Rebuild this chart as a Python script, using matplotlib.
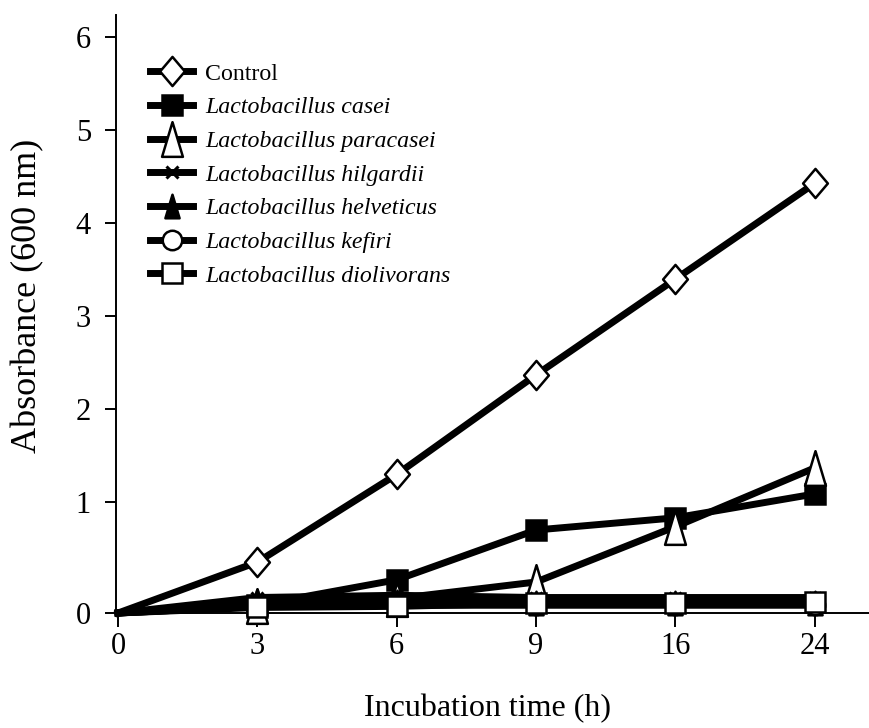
import numpy as np
import matplotlib
matplotlib.use("Agg")
import matplotlib.pyplot as plt
from matplotlib.lines import Line2D
from matplotlib.path import Path

# Sampling times (h) and optical density readings
times = ["0", "3", "6", "9", "16", "24"]
control = [0.0, 0.46, 1.30, 2.37, 3.40, 4.43]
l_casei = [0.0, 0.07, 0.30, 0.75, 0.86, 1.09]
l_paracasei = [0.0, 0.06, 0.13, 0.28, 0.78, 1.37]
l_hilgardii = [0.0, 0.14, 0.16, 0.14, 0.14, 0.14]
l_helveticus = [0.0, 0.11, 0.10, 0.09, 0.09, 0.09]
l_kefiri = [0.0, 0.06, 0.07, 0.07, 0.07, 0.07]
l_diolivorans = [0.0, 0.05, 0.06, 0.09, 0.09, 0.10]

plt.rcParams["font.family"] = ["Liberation Serif", "DejaVu Serif"]

fig = plt.figure(figsize=(8.69, 7.28), dpi=100)
W, H = 869, 728
left, right, bottom, top = 116, 869, 613, 15
ax = fig.add_axes([left / W, 1 - bottom / H, (right - left) / W, (bottom - top) / H])

# stretched segment between 0 and 1 on the absorbance axis
k = 1.19


def fwd(y):
    y = np.asarray(y, dtype=float)
    return np.where(y < 1, k * y - (k - 1), y)


def inv(u):
    u = np.asarray(u, dtype=float)
    return np.where(u < 1, (u + (k - 1)) / k, u)


ax.set_yscale("function", functions=(fwd, inv))

x = np.arange(len(times))


def closed(pts):
    return Path(pts + [pts[0]], closed=True)


tall_tri = closed([(-0.6, -1.0), (0.6, -1.0), (0.0, 1.0)])
tall_dia = closed([(0.0, 1.0), (0.85, 0.0), (0.0, -1.0), (-0.85, 0.0)])

series = [
    ("Control", control, dict(marker=tall_dia, markersize=21, markerfacecolor="white"), False),
    ("Lactobacillus casei", l_casei, dict(marker="s", markersize=14, markerfacecolor="black"), True),
    ("Lactobacillus paracasei", l_paracasei, dict(marker=tall_tri, markersize=25, markerfacecolor="white"), True),
    ("Lactobacillus hilgardii", l_hilgardii, dict(marker="x", markersize=8, markeredgewidth=2.2), True),
    ("Lactobacillus helveticus", l_helveticus, dict(marker=tall_tri, markersize=17, markerfacecolor="black"), True),
    ("Lactobacillus kefiri", l_kefiri, dict(marker="o", markersize=14, markerfacecolor="white"), True),
    ("Lactobacillus diolivorans", l_diolivorans, dict(marker="s", markersize=14, markerfacecolor="white"), True),
]

handles = []
for name, vals, mk, italic in series:
    style = dict(color="black", linewidth=5, markeredgecolor="black",
                 markeredgewidth=mk.pop("markeredgewidth", 1.8))
    style.update(mk)
    ax.plot(x, vals, markevery=slice(1, None), clip_on=False, zorder=3, **style)
    handles.append(Line2D([], [], **style))

ax.set_xlim(-0.015, 5.39)
ax.set_ylim(0, 6.24)

ax.set_xticks(x)
ax.set_xticklabels(times)
ax.set_yticks(range(7))

for s in ("top", "right"):
    ax.spines[s].set_visible(False)
for s in ("left", "bottom"):
    ax.spines[s].set_linewidth(1.4)

ax.tick_params(axis="x", direction="out", length=10, width=1.4, labelsize=22, pad=4)
ax.tick_params(axis="y", direction="out", length=8, width=1.4, labelsize=22, pad=10)

ax.set_xlabel("Incubation time (h)", fontsize=23)
ax.xaxis.set_label_coords((487 - left) / (right - left), -(694 - bottom) / (bottom - top))
ax.set_ylabel("Absorbance (600 nm)", fontsize=26)
ax.yaxis.set_label_coords(-(116 - 44) / (right - left), (bottom - 296) / (bottom - top))

labels = [s[0] for s in series]
leg = ax.legend(handles, labels, loc="upper left",
                bbox_to_anchor=((150 - left) / (right - left), (bottom - 63) / (bottom - top)),
                frameon=False, fontsize=17.2, borderpad=0, borderaxespad=0,
                handlelength=1.8, handletextpad=0.5, labelspacing=0.5)
for t, (_, _, _, italic) in zip(leg.get_texts(), series):
    if italic:
        t.set_style("italic")

fig.savefig("out.png", dpi=100)
